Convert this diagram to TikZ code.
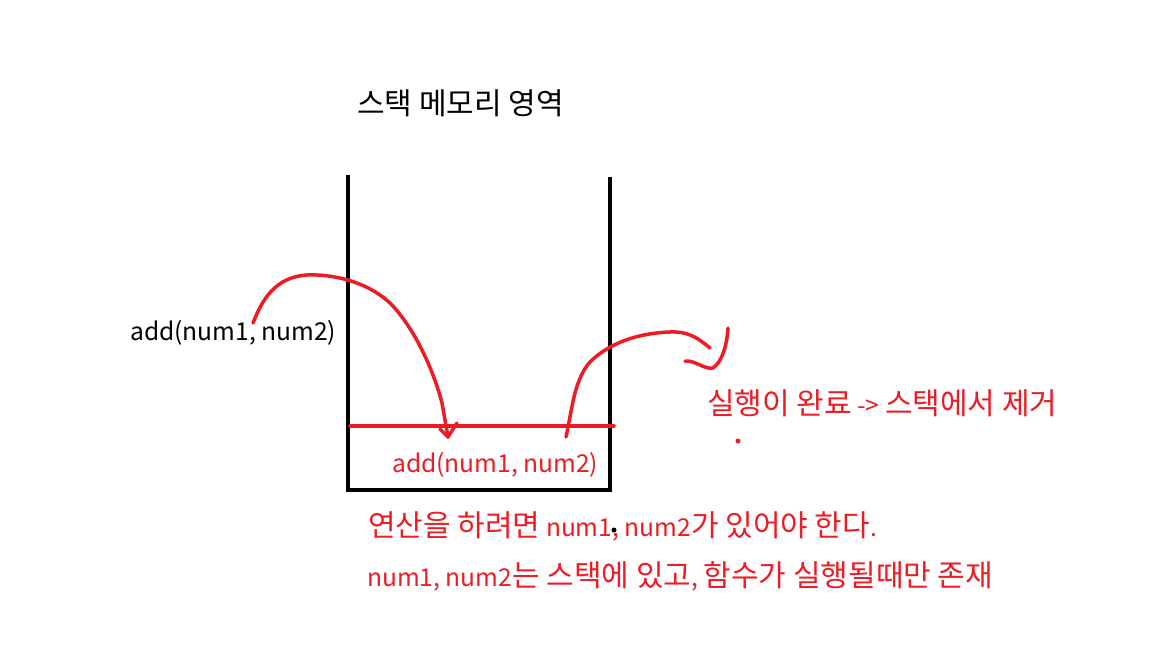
\documentclass[tikz,border=0pt]{standalone}
\usepackage{fontspec}
\setmainfont{Noto Sans CJK KR}
\definecolor{pred}{HTML}{ED1C24}
\newcommand\hk[1]{{\fontsize{30}{34}\selectfont #1}}
\tikzset{
  wall/.style={line width=4pt, black, line cap=rect},
  redline/.style={line width=3.5pt, pred, line cap=round, line join=round},
  blk/.style={font=\fontsize{24.6}{28}\selectfont, text=black, inner sep=0pt},
  rtxt/.style={font=\fontsize{24.6}{28}\selectfont, text=pred, inner sep=0pt},
}
\begin{document}
\begin{tikzpicture}[x=1pt,y=-1pt]
\useasboundingbox[fill=white] (0,0) rectangle (1152,648);
% stack container
\coordinate (tl) at (348,177);
\coordinate (bl) at (348,490);
\coordinate (br) at (610,490);
\coordinate (tr) at (610,179);
\draw[wall] (tl) -- (bl) -- (br) -- (tr);
% red stack frame line
\coordinate (fl) at (350,426);
\coordinate (fr) at (614,426);
\draw[redline] (fl) -- (fr);
% texts
\node[blk, anchor=base west] (title) at (357,114) {\hk{스택 메모리 영역}};
\node[blk, anchor=base west] (call) at (130,340) {add(num1, num2)};
\node[rtxt, anchor=base west] (frame) at (392,472) {add(num1, num2)};
\node[rtxt, anchor=base west] (done) at (707,414) {\hk{실행이 완료} -> \hk{스택에서 제거}};
\node[rtxt, anchor=base west] (note1) at (368,536) {\hk{연산을 하려면} num1, num2\hk{가 있어야 한다}.};
\node[rtxt, anchor=base west] (note2) at (367,586) {num1, num2\hk{는 스택에 있고}, \hk{함수가 실행될때만 존재}};
% dots
\fill[pred] (738,441) circle (2.5pt);
\fill[black] (614,530) circle (2.5pt);
% curve into the stack
\coordinate (c1s) at (253,323);
\coordinate (c1e) at (448,437);
\draw[redline] (c1s) .. controls (262,300) and (275,277) .. (307,275)
  .. controls (330,274) and (365,280) .. (390,303)
  .. controls (412,325) and (432,365) .. (442,403)
  -- (c1e);
\draw[redline] (440,429) -- (c1e) -- (457,423);
% curve out of the stack
\coordinate (c2s) at (566,437);
\coordinate (c2e) at (710,348);
\draw[redline] (c2s) .. controls (572,410) and (574,380) .. (590,362)
  .. controls (610,342) and (640,333) .. (670,332)
  .. controls (690,331) and (700,340) .. (c2e);
\coordinate (h1) at (728,328);
\coordinate (h2) at (685,361);
\draw[redline] (h1) .. controls (727,345) and (722,362) .. (713,368)
  .. controls (705,370) and (695,360) .. (h2);
\end{tikzpicture}
\end{document}
